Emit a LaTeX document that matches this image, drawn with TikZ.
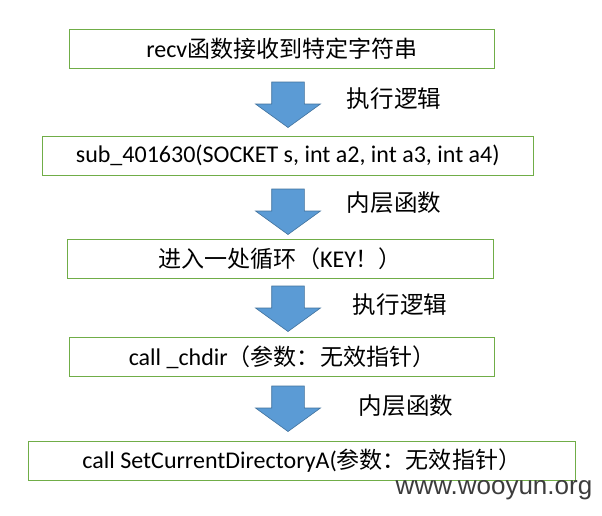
\documentclass[tikz,border=0pt]{standalone}
\usepackage{fontspec}
\setmainfont{Carlito}
\newfontfamily\cjk{Noto Sans CJK SC}[Scale=0.96]
\newfontfamily\webfont{Liberation Sans}
\usepackage{tikz}
\usetikzlibrary{positioning}
\definecolor{boxgreen}{RGB}{112,173,71}
\definecolor{arrowblue}{RGB}{91,155,213}
\definecolor{arrowedge}{RGB}{65,113,156}
\definecolor{markgray}{RGB}{60,60,60}

\begin{document}
\begin{tikzpicture}[x=1pt, y=-1pt,
    stepbox/.style={draw=boxgreen, line width=1pt, minimum height=39pt, inner sep=0pt, font=\fontsize{24}{26}\selectfont},
    flowlabel/.style={font=\cjk\fontsize{24.5}{27}\selectfont},
    blockarrow/.style={fill=arrowblue, draw=arrowedge, line width=0.6pt}]
    \useasboundingbox (0,0) rectangle (602,515);

    \node[stepbox, minimum width=425pt] (recv) at (282,48.8) {recv{\cjk 函数接收到特定字符串}};
    \node[stepbox, minimum width=491pt] (sub) at (287.8,155.8) {sub\_401630(SOCKET s, int a2, int a3, int a4)};
    \node[stepbox, minimum width=426pt] (loop) at (280.4,258.8) {{\cjk 进入一处循环（}KEY{\cjk ！）}};
    \node[stepbox, minimum width=425pt] (chdir) at (282,357) {call \_chdir{\cjk （参数：无效指针）}};
    \node[stepbox, minimum width=546.5pt, minimum height=38.5pt] (setdir) at (301.8,460.8) {call SetCurrentDirectoryA({\cjk 参数：无效指针）}};

    % block arrows between the steps
    \draw[blockarrow, shift={(288,82)}] (-16.3,0) -- (16.3,0) -- (16.3,22) -- (32.5,22) -- (0,45.5) -- (-32.5,22) -- (-16.3,22) -- cycle;
    \draw[blockarrow, shift={(288,189)}] (-16.3,0) -- (16.3,0) -- (16.3,22) -- (32.5,22) -- (0,45.5) -- (-32.5,22) -- (-16.3,22) -- cycle;
    \draw[blockarrow, shift={(288,286)}] (-16.3,0) -- (16.3,0) -- (16.3,22) -- (32.5,22) -- (0,45.5) -- (-32.5,22) -- (-16.3,22) -- cycle;
    \draw[blockarrow, shift={(288,386)}] (-16.3,0) -- (16.3,0) -- (16.3,22) -- (32.5,22) -- (0,45.5) -- (-32.5,22) -- (-16.3,22) -- cycle;

    \node[flowlabel] (logic1) at (394,99) {执行逻辑};
    \node[flowlabel] (inner1) at (394,203) {内层函数};
    \node[flowlabel] (logic2) at (400,305) {执行逻辑};
    \node[flowlabel] (inner2) at (406,406) {内层函数};

    \node[font=\webfont\fontsize{26}{28}\selectfont, text=markgray, inner sep=0pt] (mark) at (494,490) {www.wooyun.org};
\end{tikzpicture}
\end{document}
